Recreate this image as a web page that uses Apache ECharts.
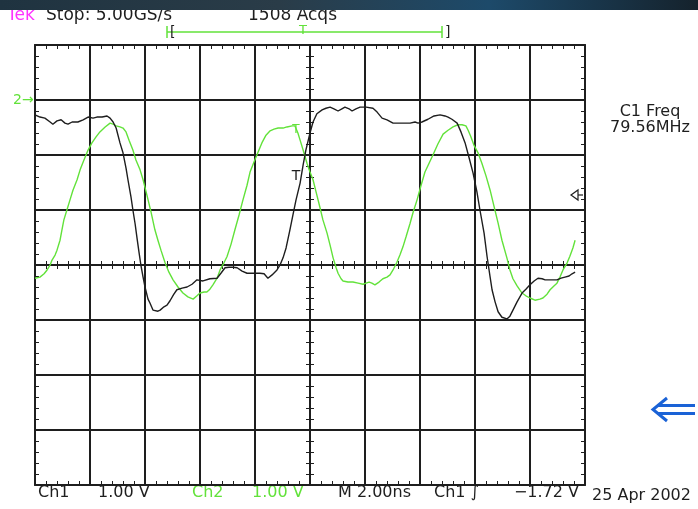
<!DOCTYPE html>
<html>
<head>
<meta charset="utf-8">
<script src="https://cdn.jsdelivr.net/npm/echarts@6/dist/echarts.min.js"></script>
<style>
html,body{margin:0;padding:0;background:#fff;}
#chart{width:698px;height:509px;}
</style>
</head>
<body>
<div id="chart"></div>
<script>
// Time axis: 2.00 ns/div, 10 divisions; voltage: 1.00 V/div, 8 divisions
const timeRange = [0, 20];
const timeStep = 2;
const voltRange = [-4, 4];
const voltStep = 1;

// Ch1 (black) [time ns, volts]
const ch1Points = [
[0.00,2.73],[0.18,2.69],[0.36,2.67],[0.55,2.60],[0.65,2.56],[0.80,2.62],[0.95,2.64],[1.09,2.58],[1.20,2.56],[1.35,2.60],
[1.56,2.60],[1.75,2.64],[1.93,2.69],[2.11,2.67],[2.25,2.69],[2.44,2.69],[2.62,2.71],[2.73,2.67],[2.84,2.60],[2.95,2.49],
[3.09,2.22],[3.20,2.04],[3.31,1.76],[3.38,1.55],[3.49,1.24],[3.56,1.00],[3.64,0.75],[3.71,0.49],[3.78,0.24],[3.85,0.00],
[3.93,-0.22],[4.00,-0.40],[4.11,-0.62],[4.18,-0.69],[4.29,-0.82],[4.36,-0.85],[4.47,-0.84],[4.55,-0.82],[4.69,-0.76],[4.80,-0.73],[4.91,-0.65],
[5.05,-0.53],[5.16,-0.45],[5.35,-0.42],[5.53,-0.40],[5.71,-0.35],[5.89,-0.27],[6.11,-0.29],[6.36,-0.25],[6.62,-0.24],[6.76,-0.15],
[6.91,-0.05],[7.05,-0.04],[7.20,-0.04],[7.35,-0.05],[7.53,-0.11],[7.71,-0.15],[7.96,-0.15],[8.18,-0.15],[8.33,-0.16],[8.47,-0.24],
[8.62,-0.18],[8.80,-0.09],[8.91,0.00],[9.02,0.13],[9.13,0.31],[9.27,0.64],[9.38,0.91],[9.49,1.18],[9.64,1.49],[9.75,1.82],
[9.85,2.09],[10.00,2.40],[10.11,2.60],[10.25,2.75],[10.44,2.82],[10.58,2.85],[10.73,2.87],[10.87,2.84],[11.02,2.80],[11.16,2.84],
[11.27,2.87],[11.42,2.84],[11.53,2.80],[11.67,2.84],[11.82,2.87],[12.04,2.87],[12.29,2.85],[12.44,2.78],[12.62,2.67],[12.80,2.64],
[13.02,2.58],[13.27,2.58],[13.64,2.58],[13.82,2.60],[13.93,2.58],[14.07,2.60],[14.29,2.65],[14.51,2.71],[14.73,2.73],[14.91,2.71],
[15.02,2.69],[15.16,2.65],[15.35,2.58],[15.49,2.42],[15.64,2.22],[15.78,1.96],[15.93,1.67],[16.07,1.33],[16.18,1.00],[16.33,0.58],
[16.44,0.15],[16.55,-0.22],[16.62,-0.45],[16.73,-0.67],[16.84,-0.85],[16.98,-0.95],[17.16,-0.98],[17.27,-0.93],[17.38,-0.82],[17.53,-0.67],
[17.71,-0.51],[17.85,-0.44],[18.00,-0.36],[18.15,-0.29],[18.29,-0.24],[18.44,-0.25],[18.55,-0.27],[18.76,-0.27],[18.98,-0.27],[19.13,-0.24],
[19.27,-0.22],[19.42,-0.20],[19.53,-0.16],[19.64,-0.13]
];

// Ch2 (green) [time ns, volts]
const ch2Points = [
[0.00,-0.24],[0.18,-0.22],[0.33,-0.16],[0.44,-0.09],[0.55,0.00],[0.62,0.09],[0.73,0.18],[0.80,0.27],[0.91,0.45],[0.98,0.64],
[1.05,0.82],[1.16,1.00],[1.27,1.18],[1.38,1.36],[1.53,1.55],[1.64,1.73],[1.78,1.91],[1.93,2.09],[2.07,2.22],[2.22,2.33],
[2.36,2.42],[2.55,2.51],[2.73,2.58],[2.84,2.56],[2.95,2.53],[3.09,2.51],[3.20,2.49],[3.31,2.42],[3.42,2.27],[3.56,2.09],
[3.67,1.91],[3.82,1.73],[3.93,1.55],[4.07,1.27],[4.22,0.96],[4.36,0.64],[4.47,0.45],[4.58,0.27],[4.73,0.04],[4.87,-0.13],
[5.02,-0.27],[5.20,-0.40],[5.38,-0.51],[5.56,-0.58],[5.75,-0.62],[5.89,-0.56],[6.00,-0.51],[6.15,-0.49],[6.25,-0.49],[6.36,-0.44],
[6.47,-0.36],[6.62,-0.24],[6.73,-0.09],[6.87,0.04],[6.98,0.15],[7.13,0.38],[7.27,0.64],[7.42,0.91],[7.56,1.18],[7.71,1.45],
[7.82,1.69],[7.96,1.87],[8.11,2.05],[8.25,2.22],[8.40,2.36],[8.55,2.44],[8.69,2.47],[8.84,2.49],[9.02,2.49],[9.16,2.51],
[9.35,2.53],[9.45,2.53],[9.56,2.40],[9.64,2.27],[9.75,2.09],[9.89,1.85],[10.00,1.69],[10.11,1.55],[10.22,1.33],[10.36,1.05],
[10.47,0.82],[10.62,0.58],[10.73,0.36],[10.84,0.13],[10.95,-0.05],[11.02,-0.15],[11.13,-0.25],[11.20,-0.29],[11.38,-0.31],[11.56,-0.31],
[11.75,-0.33],[11.93,-0.35],[12.04,-0.33],[12.15,-0.31],[12.25,-0.33],[12.36,-0.36],[12.51,-0.31],[12.65,-0.25],[12.80,-0.22],[12.91,-0.18],
[13.02,-0.09],[13.16,0.05],[13.27,0.18],[13.38,0.33],[13.49,0.51],[13.64,0.76],[13.75,0.96],[13.89,1.18],[14.04,1.45],[14.18,1.69],
[14.33,1.85],[14.47,2.00],[14.65,2.20],[14.84,2.38],[15.02,2.45],[15.20,2.51],[15.38,2.55],[15.53,2.55],[15.67,2.53],[15.75,2.45],
[15.85,2.33],[15.96,2.18],[16.11,2.04],[16.25,1.85],[16.40,1.62],[16.55,1.36],[16.69,1.07],[16.84,0.76],[16.98,0.45],[17.16,0.13],
[17.27,-0.09],[17.38,-0.25],[17.53,-0.38],[17.71,-0.51],[17.85,-0.56],[18.00,-0.60],[18.18,-0.64],[18.36,-0.62],[18.47,-0.60],[18.62,-0.53],
[18.73,-0.45],[18.87,-0.38],[18.98,-0.33],[19.09,-0.22],[19.20,-0.09],[19.35,0.04],[19.45,0.16],[19.56,0.31],[19.64,0.45]
];

const headerTexts = ['Tek', 'Stop: 5.00GS/s', '1508 Acqs'];
const footerTexts = ['Ch1', '1.00 V', 'Ch2', '1.00 V', 'M 2.00ns', 'Ch1 \u222B', '\u22121.72 V', '25 Apr 2002'];
const measureTexts = ['C1 Freq', '79.56MHz'];

const INK = '#1e1e1e';
const GREEN = '#62e23a';
const FONT = '"DejaVu Sans", sans-serif';

const chart = echarts.init(document.getElementById('chart'), null, {renderer: 'canvas'});

const G = {left: 35, top: 45, width: 550, height: 440};

function tickAxis(extra) {
  return Object.assign({
    axisLabel: {show: false},
    axisLine: {show: true, onZero: false, lineStyle: {color: INK, width: 2}},
    axisTick: {show: true, inside: true, length: 4, lineStyle: {color: INK, width: 1}},
    minorTick: {show: true, splitNumber: 5, length: 4, lineStyle: {color: INK, width: 1}},
    splitLine: {show: false}
  }, extra);
}
const xBase = {type: 'value', min: timeRange[0], max: timeRange[1], interval: timeStep};
const yBase = {type: 'value', min: voltRange[0], max: voltRange[1], interval: voltStep};

const option = {
  backgroundColor: '#ffffff',
  animation: false,
  grid: [
    {left: G.left, top: G.top, width: G.width, height: G.height, outerBoundsMode: 'none', containLabel: false},
    {left: G.left, top: G.top, width: G.width, height: G.height / 2, outerBoundsMode: 'none', containLabel: false},
    {left: G.left, top: G.top + G.height / 2, width: G.width, height: G.height / 2, outerBoundsMode: 'none', containLabel: false},
    {left: G.left, top: G.top, width: G.width / 2, height: G.height, outerBoundsMode: 'none', containLabel: false},
    {left: G.left + G.width / 2, top: G.top, width: G.width / 2, height: G.height, outerBoundsMode: 'none', containLabel: false}
  ],
  xAxis: [
    tickAxis(Object.assign({}, xBase, {gridIndex: 0, position: 'bottom',
      splitLine: {show: true, lineStyle: {color: INK, width: 2}}})),
    tickAxis(Object.assign({}, xBase, {gridIndex: 0, position: 'top'})),
    tickAxis(Object.assign({}, xBase, {gridIndex: 1, position: 'bottom', axisLine: {show: false, onZero: false}})),
    tickAxis(Object.assign({}, xBase, {gridIndex: 2, position: 'top', axisLine: {show: false, onZero: false}})),
    Object.assign({}, xBase, {gridIndex: 3, show: false}),
    Object.assign({}, xBase, {gridIndex: 4, show: false})
  ],
  yAxis: [
    tickAxis(Object.assign({}, yBase, {gridIndex: 0, position: 'left',
      splitLine: {show: true, lineStyle: {color: INK, width: 2}}})),
    tickAxis(Object.assign({}, yBase, {gridIndex: 0, position: 'right'})),
    Object.assign({}, yBase, {gridIndex: 1, show: false}),
    Object.assign({}, yBase, {gridIndex: 2, show: false}),
    tickAxis(Object.assign({}, yBase, {gridIndex: 3, position: 'right', axisLine: {show: false, onZero: false}})),
    tickAxis(Object.assign({}, yBase, {gridIndex: 4, position: 'left', axisLine: {show: false, onZero: false}}))
  ],
  series: [
    {type: 'line', name: 'Ch2', xAxisIndex: 0, yAxisIndex: 0, data: ch2Points, showSymbol: false,
     lineStyle: {color: GREEN, width: 1.4}, z: 3},
    {type: 'line', name: 'Ch1', xAxisIndex: 0, yAxisIndex: 0, data: ch1Points, showSymbol: false,
     lineStyle: {color: INK, width: 1.4}, z: 4}
  ],
  graphic: [
    {type: 'rect', shape: {x: 0, y: 0, width: 698, height: 10}, z: 1,
     style: {fill: new echarts.graphic.LinearGradient(0, 0, 1, 0, [
       {offset: 0, color: '#1f3340'}, {offset: 0.4, color: '#2a3c48'},
       {offset: 0.7, color: '#1d4a6a'}, {offset: 1, color: '#15222c'}])}},
    {type: 'text', x: 7, y: 16, style: {text: headerTexts[0], font: '17px ' + FONT, fill: '#ff33ff', textVerticalAlign: 'middle'}},
    {type: 'text', x: 46, y: 16, style: {text: headerTexts[1], font: '17px ' + FONT, fill: INK, textVerticalAlign: 'middle'}},
    {type: 'text', x: 248, y: 16, style: {text: headerTexts[2], font: '17px ' + FONT, fill: INK, textVerticalAlign: 'middle'}},
    // record-length bracket
    {type: 'line', shape: {x1: 167, y1: 32, x2: 442, y2: 32}, style: {stroke: GREEN, lineWidth: 1.5}},
    {type: 'line', shape: {x1: 167, y1: 26, x2: 167, y2: 38}, style: {stroke: GREEN, lineWidth: 1.5}},
    {type: 'line', shape: {x1: 442, y1: 26, x2: 442, y2: 38}, style: {stroke: GREEN, lineWidth: 1.5}},
    {type: 'text', x: 170, y: 32, style: {text: '[', font: '14px ' + FONT, fill: INK, textVerticalAlign: 'middle'}},
    {type: 'text', x: 445, y: 32, style: {text: ']', font: '14px ' + FONT, fill: INK, textVerticalAlign: 'middle'}},
    {type: 'text', x: 303, y: 31, style: {text: 'T', font: '13px ' + FONT, fill: GREEN, textAlign: 'center', textVerticalAlign: 'middle'}},
    // channel 2 ground marker
    {type: 'text', x: 13, y: 100, style: {text: '2\u2192', font: '14px ' + FONT, fill: GREEN, textVerticalAlign: 'middle'}},
    // trigger markers
    {type: 'text', x: 296, y: 176, z: 10, style: {text: 'T', font: '14px ' + FONT, fill: INK, textAlign: 'center', textVerticalAlign: 'middle'}},
    {type: 'text', x: 296, y: 130, z: 10, style: {text: 'T', font: '12px ' + FONT, fill: GREEN, textAlign: 'center', textVerticalAlign: 'middle'}},
    // trigger level marker on right
    {type: 'polygon', shape: {points: [[571, 195], [578, 190], [578, 200]]}, z: 10, style: {fill: '#fff', stroke: INK, lineWidth: 1.2}},
    {type: 'line', shape: {x1: 578, y1: 195, x2: 583, y2: 195}, z: 10, style: {stroke: INK, lineWidth: 1.2}},
    // measurement readout
    {type: 'text', x: 650, y: 112, style: {text: measureTexts[0], font: '16px ' + FONT, fill: INK, textAlign: 'center', textVerticalAlign: 'middle'}},
    {type: 'text', x: 650, y: 128, style: {text: measureTexts[1], font: '16px ' + FONT, fill: INK, textAlign: 'center', textVerticalAlign: 'middle'}},
    // blue double arrow
    {type: 'polyline', shape: {points: [[667, 398], [653, 409.5], [667, 421]]}, style: {stroke: '#1a62d6', lineWidth: 3, fill: null}},
    {type: 'line', shape: {x1: 657, y1: 405.5, x2: 695, y2: 405.5}, style: {stroke: '#1a62d6', lineWidth: 3}},
    {type: 'line', shape: {x1: 657, y1: 413.5, x2: 695, y2: 413.5}, style: {stroke: '#1a62d6', lineWidth: 3}},
    // footer
    {type: 'text', x: 38, y: 493, style: {text: footerTexts[0], font: '16px ' + FONT, fill: INK, textVerticalAlign: 'middle'}},
    {type: 'text', x: 98, y: 493, style: {text: footerTexts[1], font: '16px ' + FONT, fill: INK, textVerticalAlign: 'middle'}},
    {type: 'text', x: 192, y: 493, style: {text: footerTexts[2], font: '16px ' + FONT, fill: GREEN, textVerticalAlign: 'middle'}},
    {type: 'text', x: 252, y: 493, style: {text: footerTexts[3], font: '16px ' + FONT, fill: GREEN, textVerticalAlign: 'middle'}},
    {type: 'text', x: 338, y: 493, style: {text: footerTexts[4], font: '16px ' + FONT, fill: INK, textVerticalAlign: 'middle'}},
    {type: 'text', x: 434, y: 493, style: {text: footerTexts[5], font: '16px ' + FONT, fill: INK, textVerticalAlign: 'middle'}},
    {type: 'text', x: 579, y: 493, style: {text: footerTexts[6], font: '16px ' + FONT, fill: INK, textAlign: 'right', textVerticalAlign: 'middle'}},
    {type: 'text', x: 592, y: 496, style: {text: footerTexts[7], font: '16px ' + FONT, fill: INK, textVerticalAlign: 'middle'}}
  ]
};
chart.setOption(option);
</script>
</body>
</html>
